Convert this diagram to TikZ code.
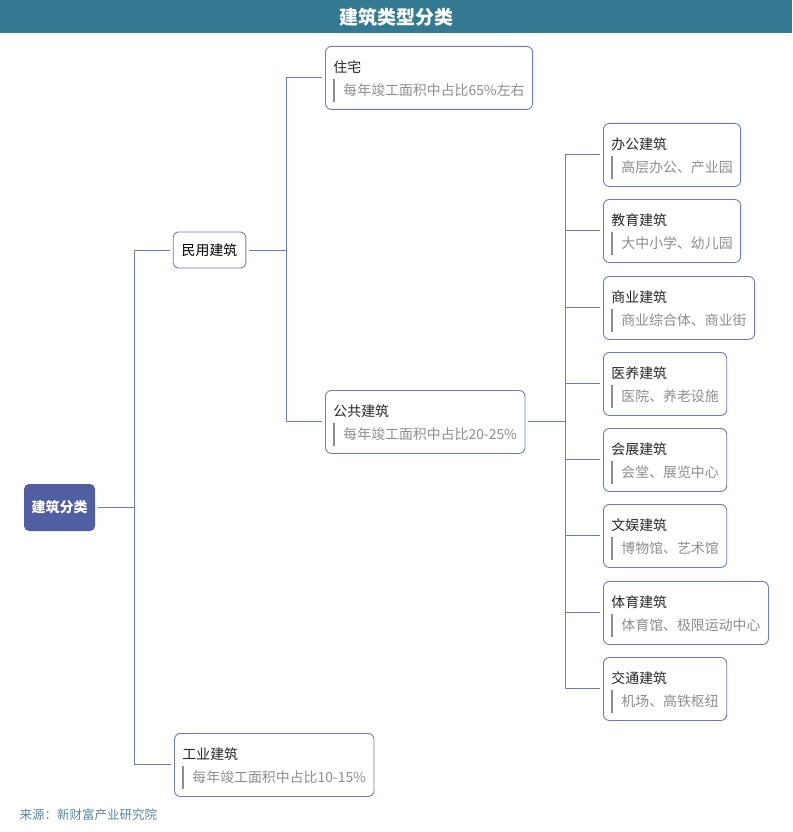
\documentclass[tikz,border=0pt]{standalone}
\usepackage{fontspec}
\setmainfont{Noto Sans CJK SC}
\usetikzlibrary{positioning}

\definecolor{barteal}{HTML}{337991}
\definecolor{rootblue}{HTML}{4F5FA2}
\definecolor{linkblue}{HTML}{6E7BC2}
\definecolor{subgray}{HTML}{8E8E8E}
\definecolor{srcblue}{HTML}{5B86A3}

\newcommand{\tname}[1]{\rule{0pt}{18pt}\textcolor{black!85}{#1}}
\newcommand{\tsub}[1]{{\color{subgray}\rule[-6.5pt]{2pt}{23pt}\hspace{8pt}#1}}

\tikzset{
  link/.style={draw=linkblue, line width=1pt, shorten >=3pt, shorten <=3pt},
  plainbox/.style={draw=linkblue, line width=0.9pt, rounded corners=5pt, fill=white,
    inner xsep=8.5pt, minimum height=36pt, font=\fontsize{13.9}{16}\selectfont},
  catbox/.style={draw=linkblue, line width=0.9pt, rounded corners=6pt, fill=white,
    align=left, anchor=north west, inner xsep=8pt, inner ysep=5pt, minimum height=63pt,
    font=\fontsize{13.9}{23}\selectfont}
}

\begin{document}
\begin{tikzpicture}[x=1pt,y=-1pt]
  \useasboundingbox (0,0) rectangle (792,832);
  % title bar
  \fill[barteal] (0,0) rectangle (792,33);
  \node[text=white, font=\fontsize{19}{22}\selectfont\bfseries] (title) at (396,17) {建筑类型分类};

  % root and first level
  \node[fill=rootblue, rounded corners=5pt, text=white, minimum width=71pt, minimum height=47pt,
    font=\fontsize{14}{16}\selectfont\bfseries] (root) at (59.5,507.5) {建筑分类};
  \node[plainbox] (civil) at (209.5,250) {民用建筑};
  \node[catbox] (industry) at (174,733) {\tname{工业建筑}\\\tsub{每年竣工面积中占比10-15\%}};

  % civil branch
  \node[catbox] (house) at (325,46) {\tname{住宅}\\\tsub{每年竣工面积中占比65\%左右}};
  \node[catbox] (public) at (325,390) {\tname{公共建筑}\\\tsub{每年竣工面积中占比20-25\%}};

  % public branch
  \node[catbox] (office) at (603,123) {\tname{办公建筑}\\\tsub{高层办公、产业园}};
  \node[catbox] (school) at (603,199) {\tname{教育建筑}\\\tsub{大中小学、幼儿园}};
  \node[catbox] (retail) at (603,276) {\tname{商业建筑}\\\tsub{商业综合体、商业街}};
  \node[catbox] (care) at (603,352) {\tname{医养建筑}\\\tsub{医院、养老设施}};
  \node[catbox] (expo) at (603,428) {\tname{会展建筑}\\\tsub{会堂、展览中心}};
  \node[catbox] (culture) at (603,504) {\tname{文娱建筑}\\\tsub{博物馆、艺术馆}};
  \node[catbox] (sport) at (603,581) {\tname{体育建筑}\\\tsub{体育馆、极限运动中心}};
  \node[catbox] (transit) at (603,657) {\tname{交通建筑}\\\tsub{机场、高铁枢纽}};

  % connectors
  \foreach \kid in {civil,industry}
    \draw[link] (root.east) -- ++(39,0) |- (\kid.west);
  \foreach \kid in {house,public}
    \draw[link] (civil.east) -- ++(40,0) |- (\kid.west);
  \foreach \kid in {office,school,retail,care,expo,culture,sport,transit}
    \draw[link] (public.east) -- ++(40,0) |- (\kid.west);

  % source
  \node[anchor=west, text=srcblue, font=\fontsize{12.5}{14}\selectfont] (source) at (16,815) {来源：新财富产业研究院};
\end{tikzpicture}
\end{document}
